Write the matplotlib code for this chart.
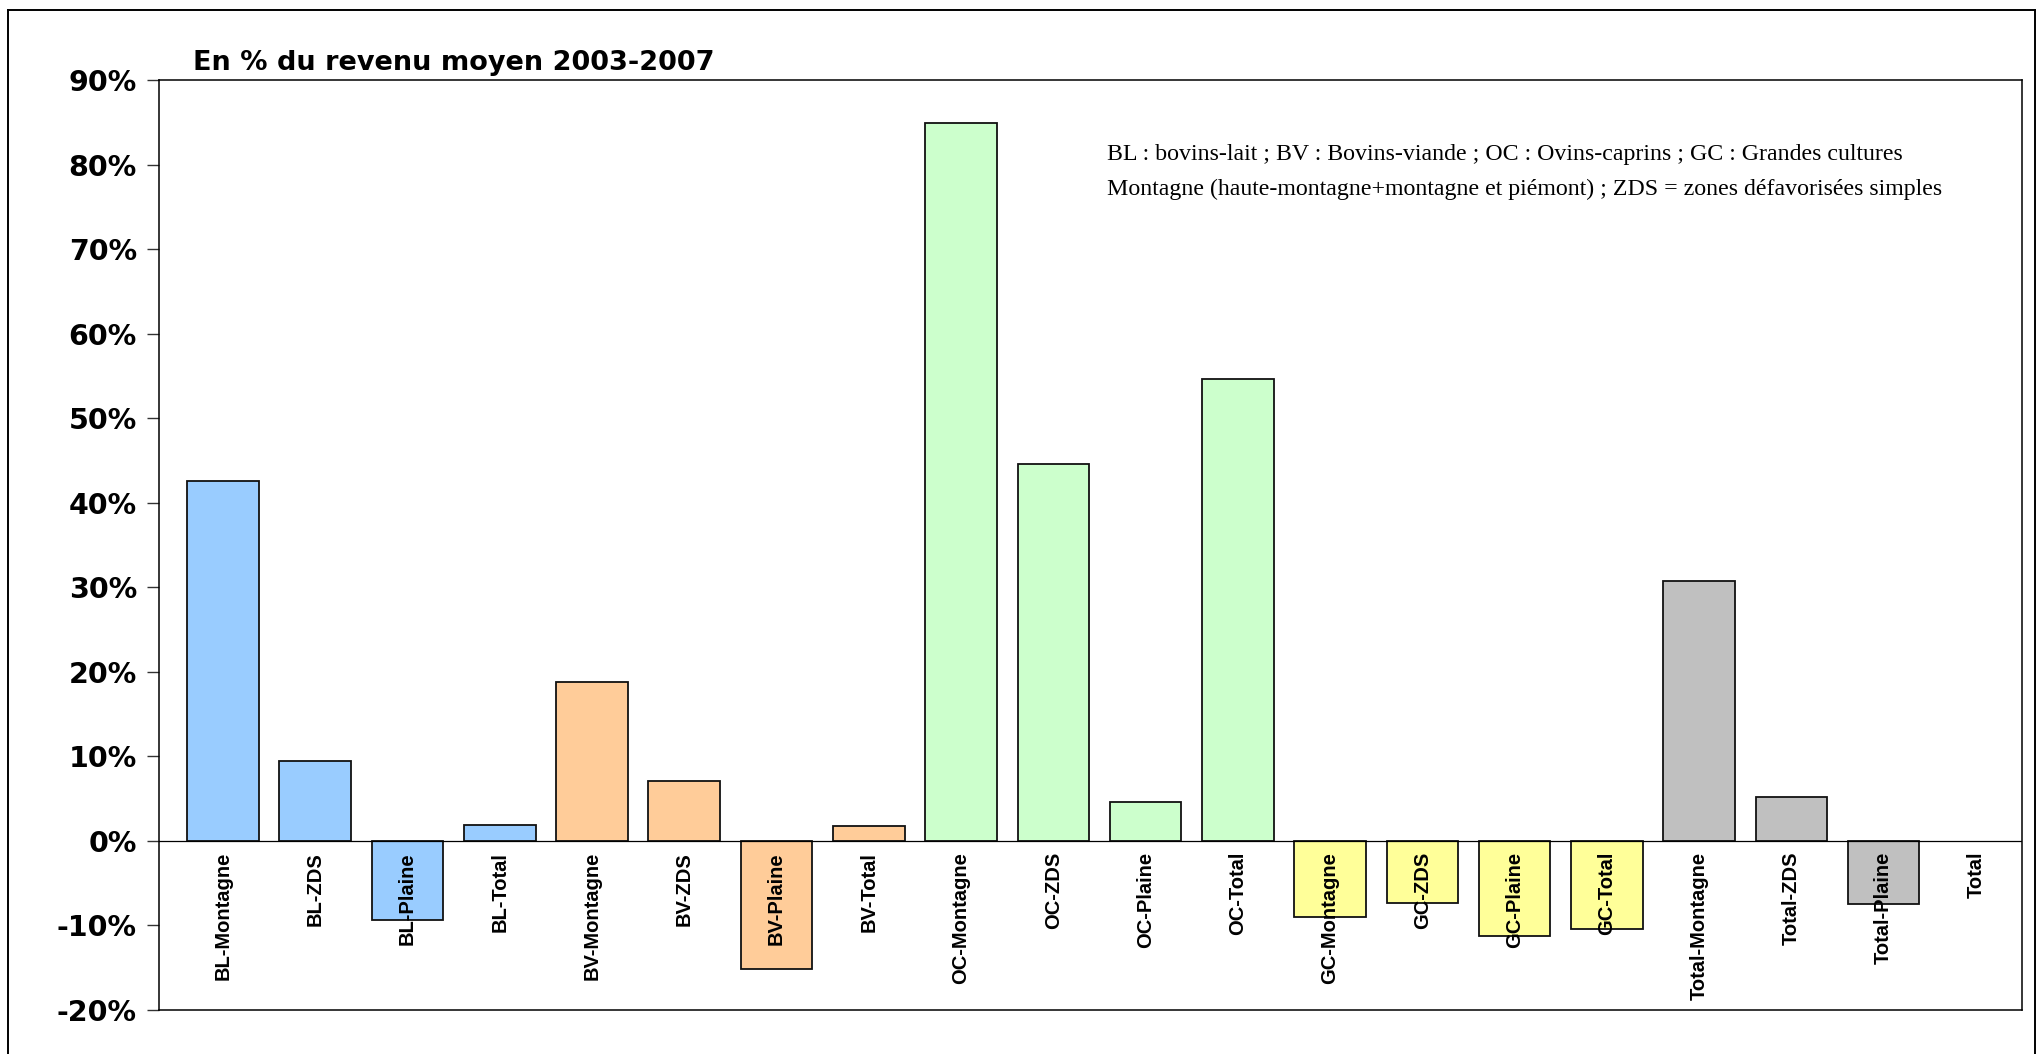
import numpy as np
import matplotlib
matplotlib.use("Agg")
import matplotlib.pyplot as plt
from matplotlib.lines import Line2D

plt.rcParams["font.family"] = ["Liberation Sans", "DejaVu Sans"]

# --- data -------------------------------------------------------------
categories = ["BL-Montagne", "BL-ZDS", "BL-Plaine", "BL-Total",
              "BV-Montagne", "BV-ZDS", "BV-Plaine", "BV-Total",
              "OC-Montagne", "OC-ZDS", "OC-Plaine", "OC-Total",
              "GC-Montagne", "GC-ZDS", "GC-Plaine", "GC-Total",
              "Total-Montagne", "Total-ZDS", "Total-Plaine", "Total"]
values = [42.6, 9.5, -9.4, 1.9,
          18.8, 7.1, -15.1, 1.8,
          84.9, 44.6, 4.6, 54.6,
          -9.0, -7.3, -11.2, -10.4,
          30.8, 5.2, -7.5, np.nan]
groups = ["BL"] * 4 + ["BV"] * 4 + ["OC"] * 4 + ["GC"] * 4 + ["Total"] * 4
group_colors = {"BL": "#99CCFF", "BV": "#FFCC99", "OC": "#CCFFCC",
                "GC": "#FFFF99", "Total": "#C0C0C0"}
ytick_values = [-20, -10, 0, 10, 20, 30, 40, 50, 60, 70, 80, 90]
ytick_labels = [f"{v}%" for v in ytick_values]
title = "En % du revenu moyen 2003-2007"
note_lines = [
    "BL : bovins-lait ; BV : Bovins-viande ; OC : Ovins-caprins ; GC : Grandes cultures",
    "Montagne (haute-montagne+montagne et piémont) ; ZDS = zones défavorisées simples",
]

# --- figure -----------------------------------------------------------
W, H = 2037, 1054
fig = plt.figure(figsize=(W / 100, H / 100), dpi=100)
fig.patch.set_facecolor("white")


def fx(px):
    return px / W


def fy(py):
    return 1 - py / H


left, right, top, bottom = 158.5, 2022.0, 80.0, 1010.0
ax = fig.add_axes([fx(left), fy(bottom), fx(right) - fx(left), fy(top) - fy(bottom)])

x = np.arange(len(categories))
colors = [group_colors[g] for g in groups]
ax.bar(x, values, width=0.777, color=colors, edgecolor="#111111",
       linewidth=1.3, zorder=2)
ax.axhline(0, color="black", linewidth=0.9, zorder=3)

ax.set_xlim(-0.70, len(categories) - 0.5)
ax.set_ylim(-20, 90)
ax.set_xticks([])
ax.set_yticks(ytick_values)
ax.set_yticklabels(ytick_labels, fontfamily="DejaVu Sans",
                   fontweight="bold", fontsize=20.5)
ax.tick_params(axis="y", direction="out", length=9, width=1.0,
               color="#333333", pad=6.5)
for sp in ax.spines.values():
    sp.set_linewidth(1.1)
    sp.set_color("black")

# category names under the zero line
for xi, name in zip(x, categories):
    ax.annotate(name, xy=(xi, 0), xytext=(0, -11), textcoords="offset pixels",
                rotation=90, ha="center", va="top", fontsize=14.5,
                fontweight="bold", fontfamily="Liberation Sans", zorder=4)

# chart title
fig.text(fx(193), fy(70), title, ha="left", va="baseline",
         fontfamily="DejaVu Sans", fontweight="bold", fontsize=19.5)

# abbreviations note
for i, line in enumerate(note_lines):
    fig.text(fx(1107), fy(160 + 35 * i), line, ha="left", va="baseline",
             fontfamily="Liberation Serif", fontsize=17.2)

# outer frame (left, top and right edges)
frame_kw = dict(transform=fig.transFigure, color="black", linewidth=1.4)
fig.add_artist(Line2D([fx(7.7), fx(7.7)], [fy(10), 0], **frame_kw))
fig.add_artist(Line2D([fx(7.7), fx(2034.5)], [fy(10), fy(10)], **frame_kw))
fig.add_artist(Line2D([fx(2034.5), fx(2034.5)], [fy(10), 0], **frame_kw))

fig.savefig("out.png", dpi=100)
